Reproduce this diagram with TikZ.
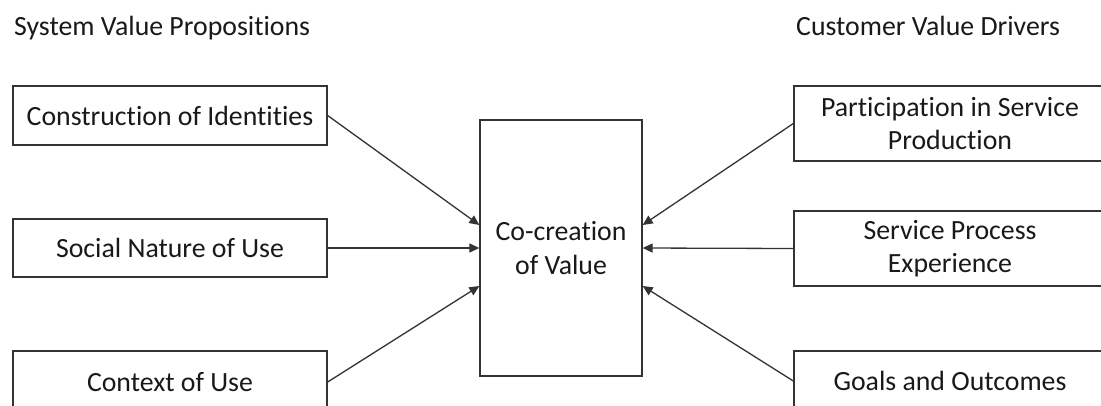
\documentclass[tikz,border=0pt]{standalone}
\usepackage{fontspec}
\setmainfont{Carlito}[RawFeature={-liga;-clig;-calt}]
\usetikzlibrary{arrows.meta}

\begin{document}
\begin{tikzpicture}[x=1pt, y=-1pt,
        every node/.style={font=\fontsize{27.8}{33.5}\selectfont, text=black!90},
        box/.style={draw=black!80, line width=1.3pt, align=center, inner sep=0pt},
        link/.style={draw=black!80, line width=1.3pt, -{Triangle[length=10pt, width=9pt]}}]
    \useasboundingbox [fill=white] (0, 0) rectangle (1101, 405);
    \clip (0, 0) rectangle (1101, 405);

    \node [anchor=base west, inner sep=0pt] (svp) at (14, 35) {System Value Propositions};
    \node [anchor=base west, inner sep=0pt] (cvd) at (796, 35) {Customer Value Drivers};

    \node [box, minimum width=314pt, minimum height=59pt] (identities) at (170, 115.5) {Construction of Identities};
    \node [box, minimum width=314pt, minimum height=58pt] (social) at (170, 248) {Social Nature of Use};
    \node [box, minimum width=314pt, minimum height=62pt] (context) at (170, 382) {Context of Use};

    \node [box, minimum width=162pt, minimum height=256pt] (cocreation) at (561, 248) {Co-creation\\of Value};

    \node [box, minimum width=312pt, minimum height=75pt] (participation) at (950, 123.5) {Participation in Service\\Production};
    \node [box, minimum width=312pt, minimum height=75pt] (process) at (950, 248.5) {Service Process\\Experience};
    \node [box, minimum width=312pt, minimum height=60pt] (goals) at (950, 381) {Goals and Outcomes};

    \draw [link] (identities.east) -- ([yshift=23pt]cocreation.west);
    \draw [link] (social.east) -- (cocreation.west);
    \draw [link] (context.east) -- ([yshift=-38pt]cocreation.west);

    \draw [link] (participation.west) -- ([yshift=23pt]cocreation.east);
    \draw [link] (process.west) -- (cocreation.east);
    \draw [link] (goals.west) -- ([yshift=-38pt]cocreation.east);
\end{tikzpicture}
\end{document}
